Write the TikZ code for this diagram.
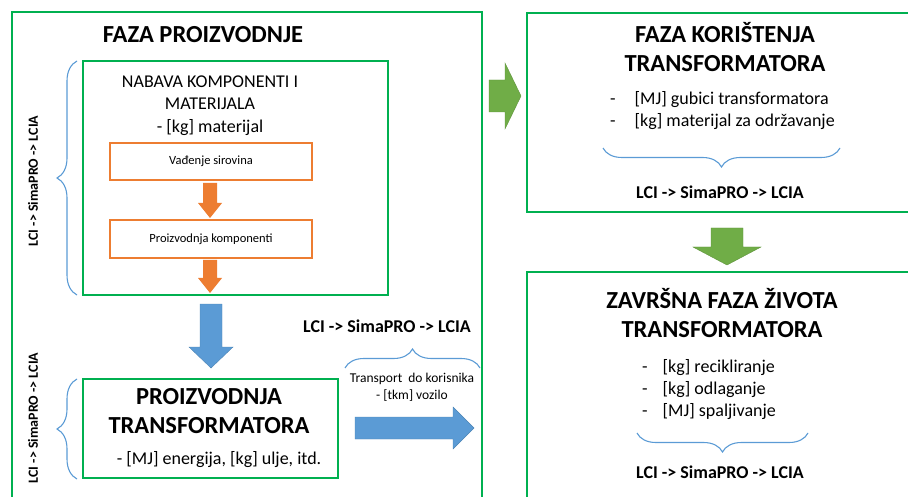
\documentclass[tikz,border=0pt]{standalone}
\usepackage{fontspec}
\setmainfont{Carlito}
\usetikzlibrary{decorations.pathreplacing}
\definecolor{gline}{RGB}{0,176,80}
\definecolor{garrow}{RGB}{112,173,71}
\definecolor{barrow}{RGB}{91,155,213}
\definecolor{oarrow}{RGB}{237,125,49}
\tikzset{
  gbox/.style={draw=gline, line width=2.2pt, inner sep=0pt, fill=none},
  obox/.style={draw=oarrow, line width=1.6pt, inner sep=0pt},
  ttl/.style={font=\fontsize{24.5}{29}\selectfont\bfseries, align=center, inner sep=0pt},
  body/.style={font=\fontsize{18}{22}\selectfont, align=center, inner sep=0pt},
  small/.style={font=\fontsize{12.5}{15}\selectfont, inner sep=0pt},
  trsmall/.style={font=\fontsize{13.5}{17}\selectfont, inner sep=0pt},
  lcia/.style={font=\fontsize{18}{21}\selectfont\bfseries, inner sep=0pt},
  lciarot/.style={font=\fontsize{14}{16}\selectfont\bfseries, inner sep=0pt, rotate=90},
  brc/.style={draw=barrow, line width=1.1pt, decorate, decoration={brace, amplitude=#1}},
  brc/.default=19pt,
  barr/.style={fill=barrow, draw=barrow!85!black, line width=0.4pt},
  garr/.style={fill=garrow, draw=garrow!85!black, line width=0.4pt},
  oarr/.style={fill=oarrow, draw=none},
}
\begin{document}
\begin{tikzpicture}[x=1pt,y=-1pt]
\useasboundingbox (0,0) rectangle (908,497);
\begin{scope}
\clip (0,0) rectangle (908,497);
% outer production box
\node[gbox, minimum width=470pt, minimum height=500pt] (prod) at (247,262) {};
\node[ttl] (prodtitle) at (203,35) {FAZA PROIZVODNJE};
% nabava box
\node[gbox, minimum width=305pt, minimum height=234pt] (nabava) at (235.5,178) {};
\node[body] (nabtxt) at (210,93) {NABAVA KOMPONENTI I\\MATERIJALA};
\node[body] (nabkg) at (210,128) {- [kg] materijal};
\node[obox, minimum width=202pt, minimum height=37pt] (vad) at (211,161.5) {};
\node[small] at (vad.center) {Vađenje sirovina};
\node[obox, minimum width=202pt, minimum height=38pt] (pk) at (211,239) {};
\node[small] at (pk.center) {Proizvodnja komponenti};
% orange arrows
\fill[oarr] (203,183) -- (217,183) -- (217,203) -- (222,203) -- (210,218) -- (198,203) -- (203,203) -- cycle;
\fill[oarr] (203,260) -- (217,260) -- (217,278) -- (222,278) -- (210,293) -- (198,278) -- (203,278) -- cycle;
% left brace 1
\draw[brc=20pt] (77,295) -- (77,61);
\node[lciarot] (l1) at (33,181) {LCI -> SimaPRO -> LCIA};
% blue down arrow
\draw[barr] (200,304) -- (222,304) -- (222,347) -- (233,347) -- (211,368) -- (189,347) -- (200,347) -- cycle;
% proizvodnja transformatora box
\node[gbox, minimum width=255pt, minimum height=99pt] (ptr) at (210.5,428.5) {};
\node[ttl] (ptrtxt) at (209,411) {PROIZVODNJA\\TRANSFORMATORA};
\node[body] (ptrkg) at (219,460) {- [MJ] energija, [kg] ulje, itd.};
\draw[brc=20pt] (77,479) -- (77,379);
\node[lciarot] (l2) at (33,418) {LCI -> SimaPRO -> LCIA};
% transport
\node[lcia] (ltr) at (387,326) {LCI -> SimaPRO -> LCIA};
\draw[brc=19pt] (345,368) -- (480,368);
\node[trsmall, align=center] (trtxt) at (412,387) {Transport\ \ do korisnika\\- [tkm] vozilo};
\draw[barr] (355,417) -- (453,417) -- (453,407) -- (474,428) -- (453,449) -- (453,439) -- (355,439) -- cycle;
% green right arrow
\draw[garr] (489,80) -- (505,80) -- (505,63) -- (521,96) -- (505,129) -- (505,112) -- (489,112) -- cycle;
% use phase box
\node[gbox, minimum width=390pt, minimum height=199pt] (use) at (722,112.5) {};
\node[ttl] (usetxt) at (725,47) {FAZA KORIŠTENJA\\TRANSFORMATORA};
\node[body, align=left, anchor=west] (useit) at (610,111) {-\hspace{19pt}[MJ] gubici transformatora\\-\hspace{19pt}[kg] materijal za održavanje};
\draw[brc=19pt] (840,148) -- (603,148);
\node[lcia] (luse) at (720,192) {LCI -> SimaPRO -> LCIA};
% green down arrow
\draw[garr] (711,228) -- (743,228) -- (743,247) -- (761,247) -- (727,265) -- (693,247) -- (711,247) -- cycle;
% end of life box
\node[gbox, minimum width=390pt, minimum height=250pt] (eol) at (722,397) {};
\node[ttl] (eoltxt) at (722,313) {ZAVRŠNA FAZA ŽIVOTA\\TRANSFORMATORA};
\node[body, align=left, anchor=west] (eolit) at (642,390) {-\hspace{15pt}[kg] recikliranje\\-\hspace{15pt}[kg] odlaganje\\-\hspace{15pt}[MJ] spaljivanje};
\draw[brc=19pt] (808,433) -- (637,433);
\node[lcia] (leol) at (720,472) {LCI -> SimaPRO -> LCIA};
\end{scope}
\end{tikzpicture}
\end{document}
